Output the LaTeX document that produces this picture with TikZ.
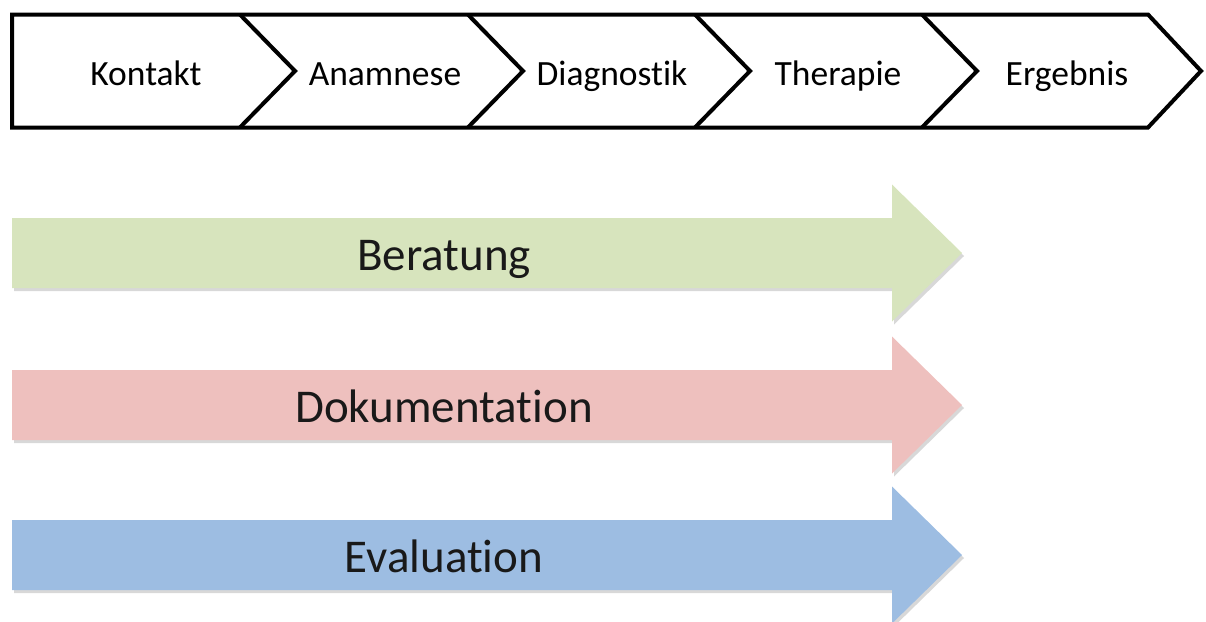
\documentclass[tikz,border=0pt]{standalone}
\usepackage{fontspec}
\setmainfont{Carlito}[Ligatures=NoCommon]
\usetikzlibrary{shadows}
\definecolor{beratungfill}{RGB}{215,228,189}
\definecolor{dokufill}{RGB}{238,192,190}
\definecolor{evalfill}{RGB}{157,189,226}
\tikzset{
  stage/.style={draw=black, line width=4pt, line join=miter},
  stagelabel/.style={font=\fontsize{35.5}{40}\selectfont, inner sep=0pt, anchor=base},
  band/.style={draw=none, drop shadow={shadow xshift=2pt, shadow yshift=-3pt, opacity=0.22, fill=black!70}},
  bandlabel/.style={font=\fontsize{47}{54}\selectfont, inner sep=0pt, anchor=base, text=black!90}
}
\begin{document}
\begin{tikzpicture}[x=1pt, y=-1pt]
\useasboundingbox (0,0) rectangle (1206,621);

% process chain: chevron separators kept inside the frame, then the outer outline
\def\top{14.5}\def\bot{127.5}\def\mid{71}\def\dep{55}
\begin{scope}
  \clip (12,\top) -- (1148,\top) -- (1148+53,\mid) -- (1148,\bot) -- (12,\bot) -- cycle;
  \foreach \bx in {240,468,695,922}{
    \draw[stage] (\bx-4,\top-4) -- (\bx+\dep,\mid) -- (\bx-4,\bot+4);
  }
\end{scope}
\draw[stage] (12,\top) -- (1148,\top) -- (1148+53,\mid) -- (1148,\bot) -- (12,\bot) -- cycle;

\node[stagelabel] (kontakt)    at (146,85)  {Kontakt};
\node[stagelabel] (anamnese)   at (385,85)  {Anamnese};
\node[stagelabel] (diagnostik) at (612,85)  {Diagnostik};
\node[stagelabel] (therapie)   at (838,85)  {Therapie};
\node[stagelabel] (ergebnis)   at (1067,85) {Ergebnis};

% cross-cutting activities as block arrows
\foreach \cy/\col in {253/beratungfill, 405/dokufill, 555/evalfill}{
  \fill[band, fill=\col] (12,\cy-35) -- (892,\cy-35) -- (892,\cy-68.5) -- (962,\cy)
    -- (892,\cy+68.5) -- (892,\cy+35) -- (12,\cy+35) -- cycle;
}
\node[bandlabel] (beratung)      at (444,270) {Beratung};
\node[bandlabel] (dokumentation) at (444,422) {Dokumentation};
\node[bandlabel] (evaluation)    at (444,572) {Evaluation};
\end{tikzpicture}
\end{document}
